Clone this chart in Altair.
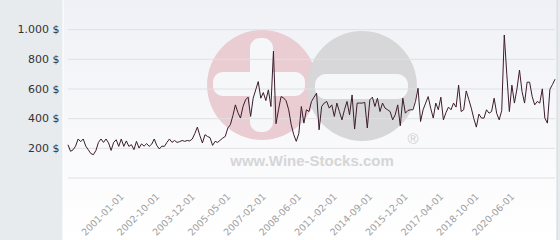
import altair as alt
import pandas as pd

# ---- data ----
prices = [
    224, 180, 190, 215, 263, 245, 263, 215, 190, 165,
    157, 185, 240, 263, 240, 263, 236, 186, 240, 258,
    213, 263, 213, 250, 213, 225, 191, 247, 202, 230,
    215, 232, 213, 228, 263, 220, 196, 215, 213, 240,
    263, 240, 253, 240, 245, 253, 247, 253, 250, 263,
    300, 343, 285, 236, 292, 280, 272, 220, 247, 240,
    255, 269, 280, 337, 359, 420, 493, 440, 404, 482,
    527, 545, 415, 538, 594, 650, 538, 576, 522, 594,
    482, 855, 366, 460, 549, 540, 520, 460, 359, 292,
    247, 300, 482, 370,
    460, 448, 516, 545, 572, 325, 482, 505, 516, 471,
    493, 415, 505, 448, 392, 460, 516, 426, 560, 330,
    505, 505, 505, 510, 337, 527, 545, 482, 538, 448,
    505, 471, 460, 448, 392, 426, 493, 352, 538, 437,
    455, 460, 460, 516, 605, 381, 460, 505,
    549, 470, 404, 505, 460, 545, 392, 440, 478, 460,
    505, 478, 626, 448, 460, 587, 530, 471, 400, 343,
    431, 404, 404, 460, 437, 448, 538, 437, 392, 455,
    964, 700, 448, 626, 505, 600, 728, 583, 505, 646,
    646, 549, 493, 516, 505, 601, 404, 370, 599, 630,
    666,
]
tick_index = [21, 35, 49, 63, 77, 91, 105, 119, 133, 147, 161, 175]
tick_labels = ["2001-01-01", "2002-10-01", "2003-12-01", "2005-05-01",
               "2007-02-01", "2008-06-01", "2011-02-01", "2014-09-01",
               "2015-12-01", "2017-04-01", "2018-10-01", "2020-06-01"]
y_ticks = [0, 200, 400, 600, 800, 1000]

df = pd.DataFrame({"i": list(range(len(prices))), "price": prices})
grid_df = pd.DataFrame({"v": y_ticks})
one = alt.Data(values=[{"k": 0}])

x_scale = alt.Scale(domain=[0, len(prices) - 1], nice=False, zero=False)
y_scale = alt.Scale(domain=[0, 1200], nice=False)

label_expr = ("[" + ",".join(f"'{l}'" for l in tick_labels) + "][indexof(["
              + ",".join(str(v) for v in tick_index) + "], datum.value)]")

x_axis = alt.Axis(values=tick_index, labelExpr=label_expr, labelAngle=315,
                  labelAlign="right", labelBaseline="top", labelPadding=13,
                  labelOffset=-3,
                  labelFont="DejaVu Sans", labelFontSize=9.5, labelColor="#a0a0a0",
                  domain=False, ticks=False, grid=False, title=None,
                  labelOverlap=False, labelFlush=False, zindex=1)
y_axis = alt.Axis(values=y_ticks,
                  labelExpr="datum.value == 0 ? '' : replace(format(datum.value, ',d'), ',', '.') + ' $'",
                  labelFont="DejaVu Sans", labelFontSize=11, labelColor="#333333",
                  labelPadding=9, domain=False, ticks=False, grid=False,
                  title=None, zindex=1)

panel = alt.Chart(one).mark_rect(
    color=alt.Gradient(gradient="linear",
                       stops=[alt.GradientStop(color="#f0f1f6", offset=0),
                              alt.GradientStop(color="#ffffff", offset=1)],
                       x1=0, x2=0, y1=0, y2=1)
).encode(x=alt.value(-5), x2=alt.value(489), y=alt.value(0), y2=alt.value(240))

left_edge = alt.Chart(one).mark_rule(color="#ffffff", strokeWidth=1).encode(
    x=alt.value(-5), y=alt.value(0), y2=alt.value(240))
right_edge = alt.Chart(one).mark_rule(color="#d3d7db", strokeWidth=1).encode(
    x=alt.value(489), y=alt.value(0), y2=alt.value(240))

wm_color = "#f6f7f9"
pink = alt.Chart(one).mark_circle(size=12076, color="#eaccd3", opacity=1).encode(
    x=alt.value(194), y=alt.value(85))
grey = alt.Chart(one).mark_circle(size=12076, color="#d7d7d9", opacity=1).encode(
    x=alt.value(294), y=alt.value(86))
plus_v = alt.Chart(one).mark_rect(color=wm_color, cornerRadius=10).encode(
    x=alt.value(182), x2=alt.value(205), y=alt.value(38), y2=alt.value(132))
plus_h = alt.Chart(one).mark_rect(color=wm_color, cornerRadius=10).encode(
    x=alt.value(145), x2=alt.value(237), y=alt.value(72), y2=alt.value(96))
minus = alt.Chart(one).mark_rect(color=wm_color, cornerRadius=11).encode(
    x=alt.value(247), x2=alt.value(340), y=alt.value(74), y2=alt.value(99))
wm_text = alt.Chart(one).mark_text(
    text="www.Wine-Stocks.com", font="Liberation Sans", fontWeight="bold",
    fontSize=15, color="#d6d6d6", align="center", baseline="middle"
).encode(x=alt.value(244), y=alt.value(161))
reg = alt.Chart(one).mark_text(
    text="®", font="Liberation Sans", fontSize=15, color="#d0d0d0",
    align="center", baseline="middle"
).encode(x=alt.value(345), y=alt.value(139))

grid = alt.Chart(grid_df).mark_rule(color="#e0e0e0", strokeWidth=1).encode(
    y=alt.Y("v:Q", scale=y_scale, axis=y_axis))

line = alt.Chart(df).mark_line(color="#3b1d2c", strokeWidth=1).encode(
    x=alt.X("i:Q", scale=x_scale, axis=x_axis),
    y=alt.Y("price:Q", scale=y_scale, axis=y_axis))

chart = alt.layer(
    panel, left_edge, right_edge, pink, grey, plus_v, plus_h, minus,
    wm_text, reg, grid, line
).properties(
    width=487, height=178,
    padding={"left": 68, "right": 5, "top": 0, "bottom": 62},
    autosize=alt.AutoSizeParams(type="none"),
    background="#e7ebee",
).configure_view(stroke=None)

chart.save("out.html", embed_options={"renderer": "svg", "actions": False})
